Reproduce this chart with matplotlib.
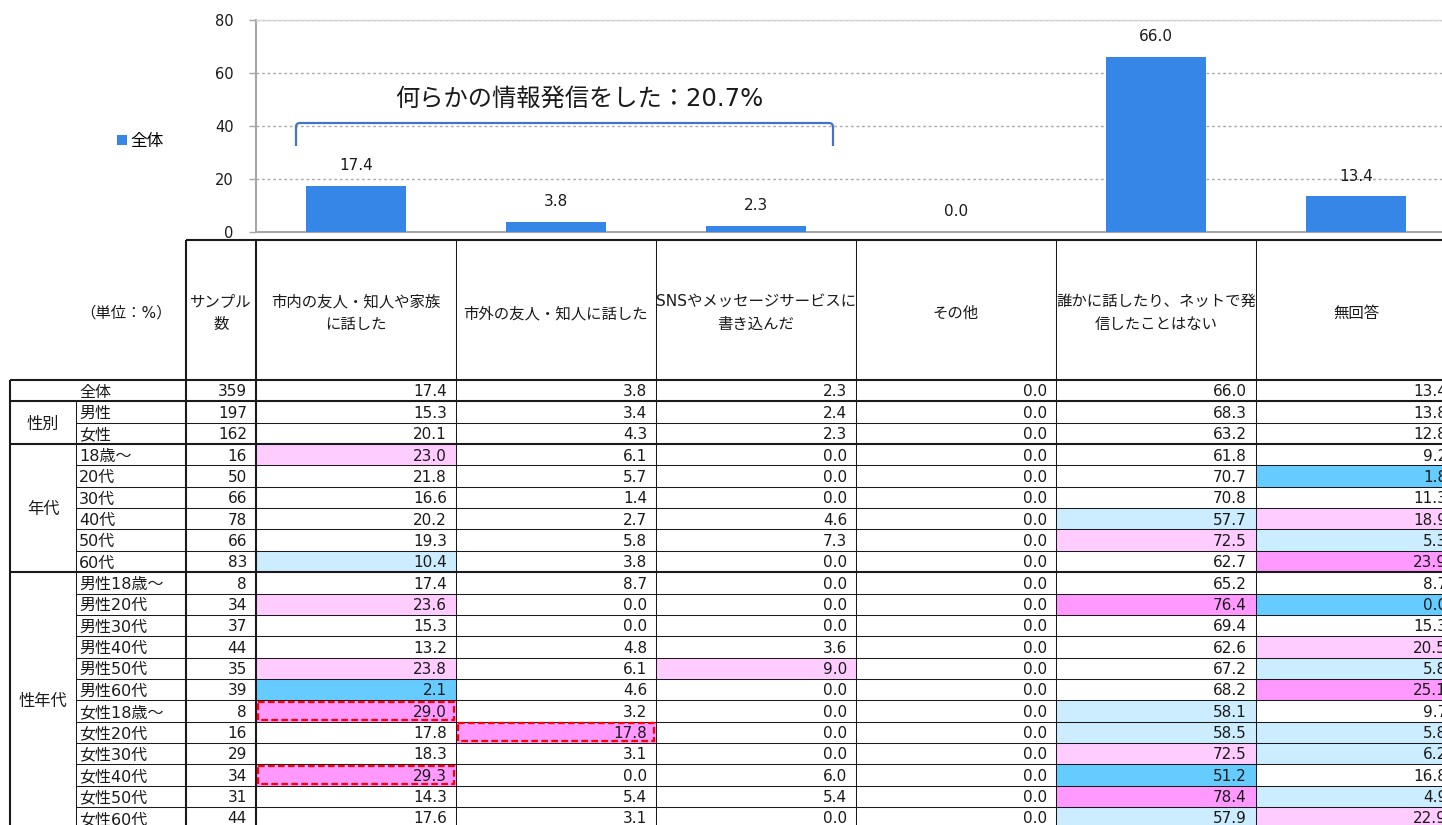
import numpy as np
import matplotlib
matplotlib.use('Agg')
import matplotlib.pyplot as plt
from matplotlib.patches import Rectangle, PathPatch
from matplotlib.path import Path

plt.rcParams['font.family'] = ['DejaVu Sans', 'Noto Sans CJK JP']

# ---------------- data ----------------
series_name = '全体'
header_lines = [
    ['市内の友人・知人や家族', 'に話した'],
    ['市外の友人・知人に話した'],
    ['SNSやメッセージサービスに', '書き込んだ'],
    ['その他'],
    ['誰かに話したり、ネットで発', '信したことはない'],
    ['無回答'],
]
overall = [17.4, 3.8, 2.3, 0.0, 66.0, 13.4]
y_ticks = [0, 20, 40, 60, 80]
annotation_text = '何らかの情報発信をした：20.7%'
unit_text = '（単位：%）'
sample_header = ['サンプル', '数']

row_labels = ['全体', '男性', '女性', '18歳～', '20代', '30代', '40代', '50代', '60代',
              '男性18歳～', '男性20代', '男性30代', '男性40代', '男性50代', '男性60代',
              '女性18歳～', '女性20代', '女性30代', '女性40代', '女性50代', '女性60代']
groups = [('', 0, 1), ('性別', 1, 3), ('年代', 3, 9), ('性年代', 9, 21)]
samples = [359, 197, 162, 16, 50, 66, 78, 66, 83, 8, 34, 37, 44, 35, 39, 8, 16, 29, 34, 31, 44]
col_in_city = [17.4, 15.3, 20.1, 23.0, 21.8, 16.6, 20.2, 19.3, 10.4, 17.4, 23.6, 15.3, 13.2, 23.8, 2.1,
               29.0, 17.8, 18.3, 29.3, 14.3, 17.6]
col_out_city = [3.8, 3.4, 4.3, 6.1, 5.7, 1.4, 2.7, 5.8, 3.8, 8.7, 0.0, 0.0, 4.8, 6.1, 4.6,
                3.2, 17.8, 3.1, 0.0, 5.4, 3.1]
col_sns = [2.3, 2.4, 2.3, 0.0, 0.0, 0.0, 4.6, 7.3, 0.0, 0.0, 0.0, 0.0, 3.6, 9.0, 0.0,
           0.0, 0.0, 0.0, 6.0, 5.4, 0.0]
col_other = [0.0] * 21
col_none = [66.0, 68.3, 63.2, 61.8, 70.7, 70.8, 57.7, 72.5, 62.7, 65.2, 76.4, 69.4, 62.6, 67.2, 68.2,
            58.1, 58.5, 72.5, 51.2, 78.4, 57.9]
col_noanswer = [13.4, 13.8, 12.8, 9.2, 1.8, 11.3, 18.9, 5.3, 23.9, 8.7, 0.0, 15.3, 20.5, 5.8, 25.1,
                9.7, 5.8, 6.2, 16.8, 4.9, 22.9]
value_cols = [col_in_city, col_out_city, col_sns, col_other, col_none, col_noanswer]

# highlight class per (row, value column): lp light pink, sp strong pink, lb light blue, sb strong blue
highlights = {
    (3, 0): 'lp', (8, 0): 'lb', (10, 0): 'lp', (13, 0): 'lp', (14, 0): 'sb', (15, 0): 'sp', (18, 0): 'sp',
    (16, 1): 'sp',
    (13, 2): 'lp',
    (6, 4): 'lb', (7, 4): 'lp', (10, 4): 'sp', (15, 4): 'lb', (16, 4): 'lb', (17, 4): 'lp',
    (18, 4): 'sb', (19, 4): 'sp', (20, 4): 'lb',
    (4, 5): 'sb', (6, 5): 'lp', (7, 5): 'lb', (8, 5): 'sp', (10, 5): 'sb', (12, 5): 'lp', (13, 5): 'lb',
    (14, 5): 'sp', (16, 5): 'lb', (17, 5): 'lb', (19, 5): 'lb', (20, 5): 'lp',
}
dashed_cells = [(15, 0), (16, 1), (18, 0)]

# ---------------- styles ----------------
W, H = 1442, 825
hl_colors = {'lp': '#FFCCFF', 'sp': '#FF99FF', 'lb': '#CCECFF', 'sb': '#66CCFF'}
bar_color = '#3586E6'
txt = '#1a1a1a'
line_c = '#1a1a1a'
thick = 1.5
thin = 0.75
fs_num = 11
fs_jp = 11.7
fs_head = 11.1

fig = plt.figure(figsize=(W / 100, H / 100), dpi=100)

# ---------------- bar chart ----------------
col_edges = [186, 256, 456, 656, 856, 1056, 1256, 1456]
ax_b = fig.add_axes([256 / W, 1 - 232 / H, 1200 / W, 212 / H])
ax_b.set_facecolor('none')
x = np.arange(len(overall))
bars = ax_b.bar(x, overall, width=0.5, color=bar_color, label=series_name, zorder=3)
ax_b.set_xlim(-0.5, len(overall) - 0.5)
ax_b.set_ylim(y_ticks[0], y_ticks[-1])
ax_b.set_yticks(y_ticks)
ax_b.set_xticks([])
ax_b.yaxis.grid(True, linestyle=(0, (2, 2)), color='#AAAAAA', linewidth=1)
ax_b.set_axisbelow(True)
ax_b.spines['right'].set_visible(False)
ax_b.spines['top'].set_color('#D4D4D4')
ax_b.spines['top'].set_linewidth(1)
for s in ['left', 'bottom']:
    ax_b.spines[s].set_color('#A6A6A6')
    ax_b.spines[s].set_linewidth(1.5)
ax_b.tick_params(axis='y', length=5, width=1, color='#A6A6A6', labelsize=10.5, labelcolor=txt, pad=11)
for b, v in zip(bars, overall):
    ax_b.annotate(f'{v:.1f}', (b.get_x() + b.get_width() / 2, v), xytext=(0, 14.5),
                  textcoords='offset points', ha='center', va='center', fontsize=fs_num, color=txt)

fig.legend(handles=[bars], labels=[series_name], loc='center left',
           bbox_to_anchor=(117 / W, 1 - 141 / H), frameon=False, fontsize=12,
           handlelength=0.6, handleheight=0.6, handletextpad=0.2, borderpad=0, borderaxespad=0)

# ---------------- pixel overlay (table, bracket) ----------------
ax_p = fig.add_axes([0, 0, 1, 1])
ax_p.set_xlim(0, W)
ax_p.set_ylim(H, 0)
ax_p.axis('off')
ax_p.set_zorder(2)

# bracket
verts = [(296, 146), (296, 127), (296, 123), (300, 123), (829, 123), (833, 123), (833, 127), (833, 146)]
codes = [Path.MOVETO, Path.LINETO, Path.CURVE3, Path.CURVE3, Path.LINETO, Path.CURVE3, Path.CURVE3, Path.LINETO]
ax_p.add_patch(PathPatch(Path(verts, codes), fill=False, edgecolor='#4472C4', lw=1.6))
ax_p.text(395, 106, annotation_text, fontsize=17.5, ha='left', va='baseline', color=txt)

table_left = 10
group_right = 76
header_top = 240
body_top = 380
row_h = 21.35
n = len(row_labels)
row_edges = [body_top + i * row_h for i in range(n + 1)]
right_end = col_edges[-1]


def hline(y, x0, x1, lw):
    ax_p.plot([x0, x1], [y, y], color=line_c, lw=lw, solid_capstyle='butt', zorder=3)


def vline(x0, y0, y1, lw):
    ax_p.plot([x0, x0], [y0, y1], color=line_c, lw=lw, solid_capstyle='butt', zorder=3)


def vcol(c):
    """left/right pixel edges of value column c"""
    return col_edges[c + 1], col_edges[c + 2]


# fills
for (r, c), cls in highlights.items():
    x0, x1 = vcol(c)
    ax_p.add_patch(Rectangle((x0, row_edges[r]), x1 - x0, row_h,
                             facecolor=hl_colors[cls], edgecolor='none', zorder=1))

# header
hline(header_top, col_edges[0], right_end, thick)
for i, xe in enumerate(col_edges[:-1]):
    vline(xe, header_top, row_edges[-1] + 5, thick if i < 2 else thin)
ax_p.text(172, 312 + 5.8, unit_text, fontsize=fs_head, ha='right', va='baseline', color=txt)


def header_text(xc, lines):
    ys = [312] if len(lines) == 1 else [300, 323]
    for yy, s in zip(ys, lines):
        ax_p.text(xc, yy + 6, s, fontsize=fs_head, ha='center', va='baseline', color=txt)


header_text((col_edges[0] + col_edges[1]) / 2, sample_header)
for c, lines in enumerate(header_lines):
    x0, x1 = vcol(c)
    header_text((x0 + x1) / 2, lines)

# body lines
group_starts = [g[1] for g in groups]
for i, y in enumerate(row_edges[:-1]):
    if i in group_starts:
        hline(y, table_left, right_end, thick)
    else:
        hline(y, group_right, right_end, thin)
vline(table_left, body_top, row_edges[-1] + 5, thick)
vline(group_right, row_edges[1], row_edges[-1] + 5, thin)

# group labels
for name, s, e in groups:
    if name:
        yc = (row_edges[s] + row_edges[e]) / 2
        ax_p.text((table_left + group_right) / 2, yc + 6, name, fontsize=fs_jp,
                  ha='center', va='baseline', color=txt)

# row texts
for r in range(n):
    yb = (row_edges[r] + row_edges[r + 1]) / 2 + 5.8
    ax_p.text(group_right + 3, yb + 0.3, row_labels[r], fontsize=11.5, ha='left', va='baseline', color=txt)
    ax_p.text(col_edges[1] - 9, yb, f'{samples[r]}', fontsize=fs_num, ha='right', va='baseline', color=txt)
    for c, col in enumerate(value_cols):
        x0, x1 = vcol(c)
        ax_p.text(x1 - 9, yb, f'{col[r]:.1f}', fontsize=fs_num, ha='right', va='baseline', color=txt)

# red dashed cells
for r, c in dashed_cells:
    x0, x1 = vcol(c)
    ax_p.add_patch(Rectangle((x0 + 2, row_edges[r] + 1.5), x1 - x0 - 4, row_h - 3,
                             fill=False, edgecolor='#FF0000', lw=1.6, linestyle=(0, (3, 1.5)), zorder=4))

fig.savefig('out.png', dpi=100)
